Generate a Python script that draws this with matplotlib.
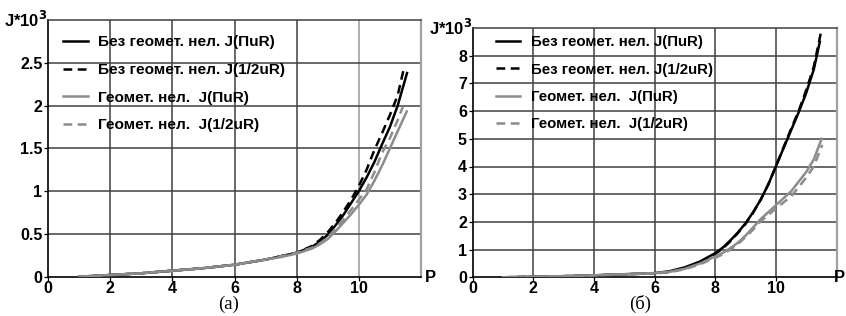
import matplotlib
matplotlib.use('Agg')
import matplotlib.pyplot as plt

plt.rcParams['font.family'] = ['Liberation Sans', 'DejaVu Sans']

# legend labels
labels = ['Без геомет. нел. J(ПuR)', 'Без геомет. нел. J(1/2uR)',
          'Геомет. нел.  J(ПuR)', 'Геомет. нел.  J(1/2uR)']

# panel (a)
p_a_bs = [1, 2, 3, 4, 5, 6, 7, 7.5, 8, 8.5, 8.75, 9, 9.25, 9.5, 9.75, 10, 10.25, 10.5, 10.75, 11, 11.25, 11.55]
j_a_bs = [0, 0.02, 0.04, 0.07, 0.1, 0.14, 0.2, 0.24, 0.28, 0.35, 0.41, 0.49, 0.6, 0.72, 0.86, 1.0, 1.16, 1.34,
          1.55, 1.75, 2.0, 2.38]
p_a_bd = [1, 2, 3, 4, 5, 6, 7, 7.5, 8, 8.5, 8.75, 9, 9.25, 9.5, 9.75, 10, 10.25, 10.5, 10.75, 11, 11.25, 11.44]
j_a_bd = [0, 0.02, 0.04, 0.07, 0.1, 0.14, 0.2, 0.24, 0.28, 0.36, 0.43, 0.52, 0.63, 0.76, 0.9, 1.06, 1.25, 1.48,
          1.68, 1.89, 2.12, 2.42]
p_a_gs = [1, 2, 3, 4, 5, 6, 7, 7.5, 8, 8.5, 8.75, 9, 9.25, 9.5, 9.75, 10, 10.25, 10.5, 10.75, 11, 11.25, 11.54]
j_a_gs = [0, 0.02, 0.04, 0.07, 0.1, 0.14, 0.2, 0.23, 0.27, 0.33, 0.38, 0.44, 0.53, 0.63, 0.73, 0.84, 0.96, 1.12,
          1.3, 1.5, 1.7, 1.93]
p_a_gd = [1, 2, 3, 4, 5, 6, 7, 7.5, 8, 8.5, 8.75, 9, 9.25, 9.5, 9.75, 10, 10.25, 10.5, 10.75, 11, 11.25, 11.42]
j_a_gd = [0, 0.02, 0.04, 0.07, 0.1, 0.14, 0.2, 0.24, 0.28, 0.34, 0.39, 0.46, 0.56, 0.67, 0.78, 0.9, 1.02, 1.22,
          1.45, 1.62, 1.83, 1.99]

# panel (б)
p_b_bs = [1, 2, 3, 4, 5, 6, 6.5, 7, 7.5, 8, 8.25, 8.5, 8.75, 9, 9.25, 9.5, 9.75, 10, 10.25, 10.5, 10.75, 11,
          11.25, 11.45]
j_b_bs = [0, 0.02, 0.04, 0.07, 0.11, 0.15, 0.22, 0.36, 0.57, 0.87, 1.07, 1.33, 1.62, 1.95, 2.35, 2.8, 3.35, 4.0,
          4.65, 5.3, 5.95, 6.65, 7.5, 8.5]
p_b_bd = [1, 2, 3, 4, 5, 6, 6.5, 7, 7.5, 8, 8.25, 8.5, 8.75, 9, 9.25, 9.5, 9.75, 10, 10.25, 10.5, 10.75, 11,
          11.25, 11.51]
j_b_bd = [0, 0.02, 0.04, 0.07, 0.11, 0.14, 0.19, 0.33, 0.54, 0.84, 1.04, 1.3, 1.6, 1.93, 2.33, 2.8, 3.35, 4.0,
          4.68, 5.35, 6.0, 6.75, 7.6, 8.96]
p_b_gs = [1, 2, 3, 4, 5, 6, 6.5, 7, 7.5, 8, 8.25, 8.5, 8.75, 9, 9.25, 9.5, 9.75, 10, 10.25, 10.5, 10.75, 11,
          11.25, 11.51]
j_b_gs = [0, 0.02, 0.04, 0.07, 0.11, 0.15, 0.2, 0.31, 0.5, 0.75, 0.88, 1.05, 1.25, 1.5, 1.8, 2.1, 2.35, 2.6,
          2.85, 3.1, 3.45, 3.8, 4.25, 5.0]
p_b_gd = [1, 2, 3, 4, 5, 6, 6.5, 7, 7.5, 8, 8.25, 8.5, 8.75, 9, 9.25, 9.5, 9.75, 10, 10.25, 10.5, 10.75, 11,
          11.25, 11.53]
j_b_gd = [0, 0.02, 0.04, 0.07, 0.11, 0.14, 0.19, 0.29, 0.47, 0.7, 0.83, 1.0, 1.2, 1.45, 1.72, 2.02, 2.25, 2.48,
          2.7, 2.92, 3.25, 3.6, 4.0, 4.78]

black = '#000000'
gray = '#8c8c8c'
grid_c = '#404040'

fig = plt.figure(figsize=(8.46, 3.16), dpi=100)
ax1 = fig.add_axes([48 / 846, 1 - 276.7 / 316, 373 / 846, 256.7 / 316])
ax2 = fig.add_axes([472.5 / 846, 1 - 277.3 / 316, 364 / 846, 249.3 / 316])


def setup(ax, series, ymax, ystep, yfmt, caption, cap_x, leg_xy, leg_size):
    for (p, j), col, ls in zip(series, [black, black, gray, gray], ['-', '--', '-', '--']):
        if ls == '--':
            ax.plot(p, j, color=col, lw=1.8, ls='--', dashes=(3.5, 2.2), zorder=3)
        else:
            ax.plot(p, j, color=col, lw=1.8, zorder=3)
    ax.set_xlim(0, 12)
    ax.set_ylim(0, ymax)
    ax.set_xticks(range(0, 12, 2))
    yt = [i * ystep for i in range(int(round(ymax / ystep)))]
    ax.set_yticks(yt)
    ax.set_yticklabels([yfmt(v) for v in yt])
    # grid drawn as plain lines
    vlines = {}
    for v in range(2, 12, 2):
        vlines[v] = ax.axvline(v, color=grid_c, lw=1.1, zorder=1)
    for v in yt[1:]:
        ax.axhline(v, color=grid_c, lw=1.1, zorder=1)
    for s in ['left', 'bottom']:
        ax.spines[s].set_color('black')
        ax.spines[s].set_linewidth(1.2)
    ax.spines['top'].set_color(grid_c)
    ax.spines['top'].set_linewidth(1.1)
    ax.spines['right'].set_color('#a0a0a0')
    ax.spines['right'].set_linewidth(1.6)
    ax.tick_params(axis='y', length=3, width=0.9, pad=1, labelsize=11.5)
    ax.tick_params(axis='x', length=3, width=0.9, pad=0, labelsize=11.5)
    for t in ax.get_xticklabels() + ax.get_yticklabels():
        t.set_fontweight('bold')
    ax.text(0.0, 1.0, r'J*10$^\mathbf{3}$', transform=ax.transAxes, ha='right', va='center',
            fontsize=12, fontweight='bold')
    ax.text(cap_x, -0.108, caption, transform=ax.transAxes, ha='center', va='center',
            fontsize=13.5, family='Liberation Serif')
    ax.legend(labels, loc='upper left', bbox_to_anchor=leg_xy, frameon=False,
              borderaxespad=0, borderpad=0,
              handlelength=1.6, handletextpad=0.7, labelspacing=0.88,
              prop={'weight': 'bold', 'size': leg_size})
    return vlines


vl = setup(ax1, [(p_a_bs, j_a_bs), (p_a_bd, j_a_bd), (p_a_gs, j_a_gs), (p_a_gd, j_a_gd)],
           3.0, 0.5, lambda v: '%g' % v, '(a)', 0.483, (0.04, 0.94), 11.1)
vl[10].set_color('#a8a8a8')  # vertical line at P=10 is lighter in this panel
vl[10].set_linewidth(1.3)
setup(ax2, [(p_b_bs, j_b_bs), (p_b_bd, j_b_bd), (p_b_gs, j_b_gs), (p_b_gd, j_b_gd)],
      9.0, 1.0, lambda v: '%d' % v, '(б)', 0.46, (0.065, 0.97), 10.8)

# axis name P at the right end of each x axis
fig.text(425 / 846, 1 - 277 / 316, 'P', ha='left', va='center', fontsize=12, fontweight='bold')
fig.text(845 / 846, 1 - 277 / 316, 'P', ha='right', va='center', fontsize=12, fontweight='bold')

fig.savefig('out.png', dpi=100)
